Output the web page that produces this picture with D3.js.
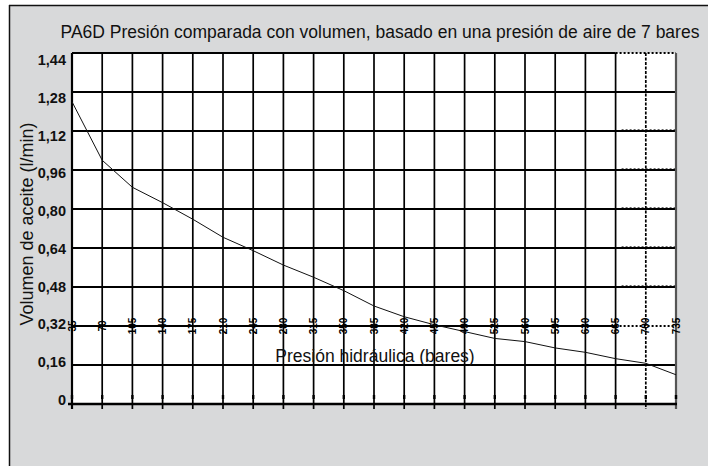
<!DOCTYPE html>
<html>
<head>
<meta charset="utf-8">
<script src="https://cdn.jsdelivr.net/npm/d3@7"></script>
<style>
  body { margin: 0; background: #fff; }
  svg { display: block; }
  text { font-family: Arial, "Liberation Sans", Helvetica, sans-serif; fill: #111; }
</style>
</head>
<body>
<svg id="chart" width="718" height="466"></svg>
<script>
'use strict';

// data
var pressures = [35, 70, 105, 140, 175, 210, 245, 280, 315, 350, 385, 420, 455, 490, 525, 560, 595, 630, 665, 700, 735];
var volumes = [1.24, 1.00, 0.889, 0.826, 0.758, 0.684, 0.629, 0.570, 0.520, 0.465, 0.402, 0.358, 0.325, 0.297, 0.269, 0.256, 0.230, 0.212, 0.186, 0.167, 0.120];
var yTicks = [0, 0.16, 0.32, 0.48, 0.64, 0.80, 0.96, 1.12, 1.28, 1.44];

var title = "PA6D Presión comparada con volumen, basado en una presión de aire de 7 bares";
var xTitle = "Presión hidráulica (bares)";
var yTitle = "Volumen de aceite (l/min)";

var svg = d3.select("#chart");

var x = d3.scaleLinear().domain([35, 735]).range([72, 676]);
var y = d3.scaleLinear().domain([0, 1.44]).range([404, 53]);
// labels on the left sit on a slightly tighter spacing than the grid
var yLabel = d3.scaleLinear().domain([0, 1.44]).range([399.5, 60]);

var fmt = function(v){
  if(v === 0) return "0";
  return d3.format(".2f")(v).replace(".", ",");
};

// grey panel, border only on top and left
svg.append("rect").attr("x", 9).attr("y", 5).attr("width", 699).attr("height", 470).attr("fill", "#d8d9da");
svg.append("line").attr("x1", 9).attr("x2", 708).attr("y1", 5.5).attr("y2", 5.5).attr("stroke", "#111").attr("stroke-width", 1.5);
svg.append("line").attr("x1", 9.5).attr("x2", 9.5).attr("y1", 5).attr("y2", 466).attr("stroke", "#111").attr("stroke-width", 1.5);

// plot area
svg.append("rect")
  .attr("x", x(35)).attr("y", y(1.44))
  .attr("width", x(735) - x(35)).attr("height", y(0) - y(1.44))
  .attr("fill", "#fff");

var grid = svg.append("g");

// horizontal grid lines (last two columns get a dotted look)
grid.selectAll(".hline")
  .data(yTicks.filter(function(d){ return d > 0; }))
  .enter().append("line")
    .attr("class", "hline")
    .attr("x1", x(35)).attr("x2", x(665))
    .attr("y1", function(d){ return y(d); }).attr("y2", function(d){ return y(d); })
    .attr("stroke", "#000").attr("stroke-width", 1.8);

grid.selectAll(".hline2")
  .data(yTicks.filter(function(d){ return d > 0; }))
  .enter().append("line")
    .attr("class", "hline2")
    .attr("x1", x(665)).attr("x2", x(735))
    .attr("y1", function(d){ return y(d); }).attr("y2", function(d){ return y(d); })
    .attr("stroke", "#000").attr("stroke-width", 1.8)
    .attr("stroke-dasharray", function(d){ return (d == 1.44 || d == 0.32) ? "2,2" : null; });

grid.selectAll(".hdot")
  .data(yTicks.filter(function(d){ return d > 0.32 && d < 1.28; }))
  .enter().append("line")
    .attr("class", "hdot")
    .attr("x1", x(665) + 6).attr("x2", x(735))
    .attr("y1", function(d){ return y(d) - 1.5; }).attr("y2", function(d){ return y(d) - 1.5; })
    .attr("stroke", "#666").attr("stroke-width", 1)
    .attr("stroke-dasharray", "2,2");

// vertical grid lines
grid.selectAll(".vline")
  .data(pressures.slice(1))
  .enter().append("line")
    .attr("class", "vline")
    .attr("x1", function(d){ return x(d); }).attr("x2", function(d){ return x(d); })
    .attr("y1", y(1.44)).attr("y2", y(0) + 5)
    .attr("stroke", function(d){ return d == 735 ? "#555" : "#000"; })
    .attr("stroke-width", function(d){ return d == 735 ? 2.2 : 1.7; })
    .attr("stroke-dasharray", function(d){ return d == 700 ? "3,1.5" : null; });

// little inner tick marks just above the base line
grid.selectAll(".itick")
  .data(pressures)
  .enter().append("line")
    .attr("class", "itick")
    .attr("x1", function(d){ return x(d); }).attr("x2", function(d){ return x(d); })
    .attr("y1", y(0) - 9).attr("y2", y(0) - 5)
    .attr("stroke", "#000").attr("stroke-width", 2.4);

// axes lines
svg.append("line").attr("x1", x(35)).attr("x2", x(35)).attr("y1", y(1.44)).attr("y2", y(0) + 5)
  .attr("stroke", "#000").attr("stroke-width", 2.2);
svg.append("line").attr("x1", x(35) - 4).attr("x2", x(735) + 1).attr("y1", y(0)).attr("y2", y(0))
  .attr("stroke", "#000").attr("stroke-width", 2.6);

// curve
var line = d3.line()
  .x(function(d, i){ return x(pressures[i]); })
  .y(function(d){ return y(d); });

svg.append("path")
  .datum(volumes)
  .attr("d", line)
  .attr("fill", "none")
  .attr("stroke", "#111")
  .attr("stroke-width", 1);

// y tick labels
svg.append("g").selectAll("text")
  .data(yTicks)
  .enter().append("text")
    .attr("x", 66)
    .attr("y", function(d){ return yLabel(d); })
    .attr("dy", "0.36em")
    .attr("text-anchor", "end")
    .style("font-size", "14.5px")
    .style("font-weight", "bold")
    .text(fmt);

// x tick labels, rotated and sitting on the 0,32 line
svg.append("g").selectAll("text")
  .data(pressures)
  .enter().append("text")
    .attr("transform", function(d){ return "translate(" + x(d) + "," + y(0.32) + ") rotate(-90)"; })
    .attr("dy", "0.36em")
    .attr("text-anchor", "middle")
    .style("font-size", "10px")
    .style("font-weight", "bold")
    .style("fill", "#000")
    .text(function(d){ return d; });

// titles
svg.append("text")
  .attr("x", 380).attr("y", 38)
  .attr("text-anchor", "middle")
  .style("font-size", "17.5px")
  .text(title);

svg.append("text")
  .attr("x", 375).attr("y", 362)
  .attr("text-anchor", "middle")
  .style("font-size", "17.5px")
  .text(xTitle);

svg.append("text")
  .attr("transform", "translate(33,224) rotate(-90)")
  .attr("text-anchor", "middle")
  .style("font-size", "18px")
  .text(yTitle);
</script>
</body>
</html>
